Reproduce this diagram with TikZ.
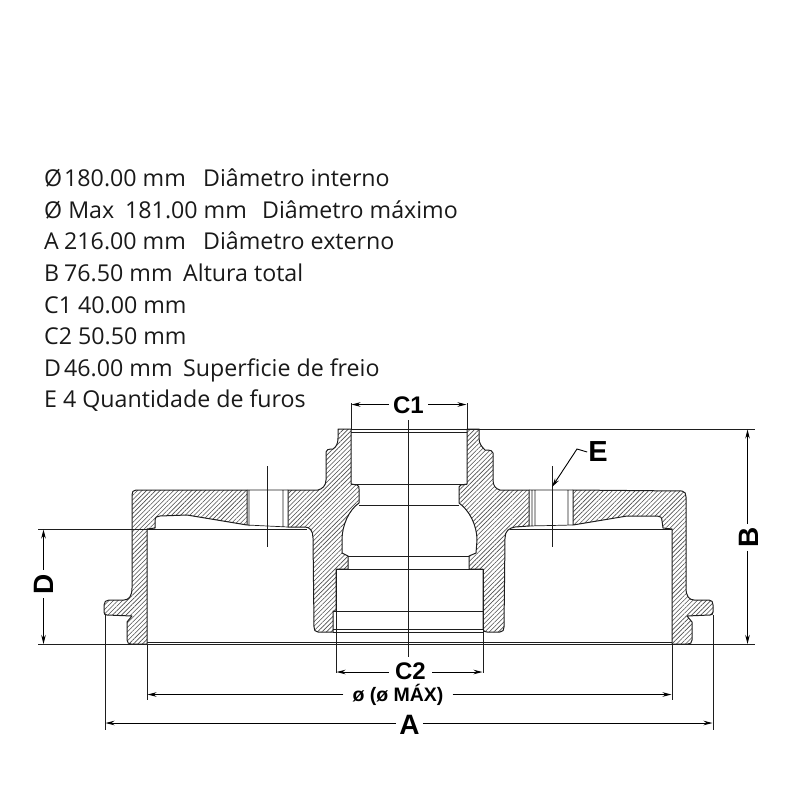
\documentclass[tikz,border=0pt]{standalone}
\usepackage{fontspec}
\setmainfont{Open Sans}
\newfontfamily\dimfont{Liberation Sans}
\usetikzlibrary{patterns.meta,arrows.meta}
\definecolor{inkgrey}{RGB}{30,30,30}
\tikzset{
  cutface/.style={draw=inkgrey,line width=1pt,line join=round,pattern={Lines[angle=45,distance=3.2pt,line width=0.6pt]},pattern color=black!70},
  thinline/.style={draw=inkgrey,line width=0.7pt},
  dimarrow/.style={draw=black,line width=0.9pt,-{Stealth[length=9pt,width=4.5pt]}},
  spec/.style={anchor=base west,inner sep=0pt,text=black!90,font=\fontsize{23.2}{26}\selectfont},
  dimlabel/.style={inner xsep=4pt,inner ysep=2pt,font=\dimfont\bfseries\fontsize{24}{26}\selectfont},
}
\begin{document}
\begin{tikzpicture}[x=1pt,y=1pt,yscale=-1,xscale=1]
\path[use as bounding box] (0,0) rectangle (800,800);

%Shape: outer wall left
\draw[cutface] (247,490) -- (136,490) .. controls (133,490) and (132,492) .. (132,495) -- (132,588) .. controls (132,596) and (129,600) .. (124,600) -- (109,600) .. controls (106,600) and (104,602) .. (104,605) -- (104,612) .. controls (104,614) and (105,615) .. (107,615) -- (132,616) -- (127,622) -- (127,640) .. controls (127,643) and (129,644) .. (131,644) -- (147,644) -- (147,529) -- (155,528) -- (155,521) .. controls (155,517) and (157,516) .. (160,516) -- (187,515) -- (247,525) -- cycle;
%Shape: hub left
\draw[cutface] (288,490) -- (318,490) .. controls (322,489) and (326,486) .. (326,480) -- (326,452) .. controls (326,450) and (328,449) .. (333,449) .. controls (336,447) and (338,444) .. (338,438) -- (338,429) -- (351,429) -- (351,484) -- (357,485) .. controls (359,486) and (359,487) .. (359,489) -- (359,503) .. controls (349,510) and (342,525) .. (342,540) -- (342,553) -- (348,556) -- (348,569) -- (336,569) -- (336,611) -- (333,611) -- (333,632) -- (318,632) .. controls (315,632) and (314,630) .. (314,627) -- (313,538) .. controls (313,531) and (310,527) .. (305,527) -- (288,527) -- cycle;
%Shape: hub right
\draw[cutface] (529,490) -- (500,490) .. controls (496,489) and (493,486) .. (493,480) -- (493,453) .. controls (493,451) and (491,450) .. (485,450) .. controls (482,447) and (479,444) .. (479,438) -- (479,429) -- (467,429) -- (467,484) -- (461,485) .. controls (459,486) and (459,487) .. (459,489) -- (459,503) .. controls (469,510) and (477,525) .. (477,540) -- (476,553) -- (469,556) -- (469,569) -- (483,569) -- (483,629) .. controls (483,631) and (485,632) .. (487,632) -- (500,632) .. controls (503,632) and (504,630) .. (504,627) -- (505,538) .. controls (505,531) and (509,528) .. (515,527) -- (529,526) -- cycle;
%Shape: outer wall right
\draw[cutface] (573,490) -- (682,491) .. controls (685,491) and (686,494) .. (686,497) -- (686,588) .. controls (686,596) and (689,600) .. (694,600) -- (709,600) .. controls (712,600) and (713,602) .. (713,605) -- (713,612) .. controls (713,614) and (712,615) .. (710,615) -- (687,616) -- (692,622) -- (692,640) .. controls (692,643) and (690,644) .. (688,644) -- (672,644) -- (672,529) -- (663,528) -- (662,521) .. controls (662,517) and (660,516) .. (657,516) -- (627,516) -- (573,525) -- cycle;

%Straight Lines: bolt holes
\draw[thinline] (247,490) -- (288,490) (247,525) -- (288,527) (249,490) -- (249,526) (283,490) -- (283,527);
\draw[thinline] (529,490) -- (573,490) (529,526) -- (573,525) (532,490) -- (532,526) (535,490) -- (535,526) (568,490) -- (568,525);
\draw[thinline] (267,466) -- (267,547) (552,466) -- (552,547);

%Straight Lines: bore edges
\draw[thinline] (351,429) -- (467,429) (351,432.5) -- (467,432.5) (351,484) -- (467,484) (359,505) -- (459,505) (348,556) -- (469,556) (336,569) -- (483,569) (333,611) -- (483,611) (333,629) -- (483,629) (333,632) -- (483,632);
\draw[thinline] (147,642.5) -- (672,642.5) (408.5,420) -- (408.5,657);

%Straight Lines: extension lines
\draw[thinline] (467,429) -- (755,429) (38,644.5) -- (755,644.5) (38,529) -- (307,529) (510,529) -- (672,529);
\draw[thinline] (351,403) -- (351,429) (467,403) -- (467,429);
\draw[thinline] (336,569) -- (336,673) (483,569) -- (483,673);
\draw[thinline] (147,644) -- (147,700) (672,644) -- (672,700);
\draw[thinline] (105,615) -- (105,730) (713,615) -- (713,730);

% Text Node
\node[spec] (diaA) at (44,186) {Ø};
\node[spec] (diaB) at (64,186) {180.00 mm};
\node[spec] (diaC) at (203,186) {Diâmetro interno};
\node[spec] (maxA) at (44,218) {Ø Max};
\node[spec] (maxB) at (125,218) {181.00 mm};
\node[spec] (maxC) at (262,218) {Diâmetro máximo};
\node[spec] (extA) at (44,249) {A};
\node[spec] (extB) at (64,249) {216.00 mm};
\node[spec] (extC) at (203,249) {Diâmetro externo};
\node[spec] (altA) at (44,281) {B};
\node[spec] (altB) at (64,281) {76.50 mm};
\node[spec] (altC) at (183,281) {Altura total};
\node[spec] (cumA) at (44,313) {C1 40.00 mm};
\node[spec] (cdoA) at (44,344) {C2 50.50 mm};
\node[spec] (freA) at (44,376) {D};
\node[spec] (freB) at (64,376) {46.00 mm};
\node[spec] (freC) at (183,376) {Superficie de freio};
\node[spec] (furA) at (44,407) {E 4 Quantidade de furos};

% Dimension labels
\node[dimlabel] (lblcone) at (408.5,405.5) {C1};
\node[dimlabel,inner xsep=6pt] (lblctwo) at (410.5,671.5) {C2};
\node[dimlabel,inner xsep=9pt,font=\dimfont\bfseries\fontsize{19.5}{20}\selectfont] (lbldia) at (398,695) {ø (ø MÁX)};
\node[dimlabel,inner xsep=3pt,font=\dimfont\bfseries\fontsize{28}{30}\selectfont] (lbla) at (409.5,725) {A};
\node[dimlabel,rotate=90,inner xsep=3pt,font=\dimfont\bfseries\fontsize{28}{30}\selectfont] (lblb) at (749,537.5) {B};
\node[dimlabel,rotate=90,inner xsep=4pt,font=\dimfont\bfseries\fontsize{28}{30}\selectfont] (lbld) at (44,584) {D};
\node[dimlabel,inner xsep=1pt,font=\dimfont\bfseries\fontsize{29}{30}\selectfont] (lble) at (598,452) {E};

\coordinate (coneL) at (351.5,404.5);
\coordinate (coneR) at (466.5,404.5);
\coordinate (ctwoL) at (336.5,672);
\coordinate (ctwoR) at (482.5,672);
\coordinate (diaL) at (147.5,694.5);
\coordinate (diaR) at (671.5,694.5);
\coordinate (aL) at (105.5,723);
\coordinate (aR) at (712.5,723);
\coordinate (bT) at (747.5,429.5);
\coordinate (bB) at (747.5,644);
\coordinate (dT) at (43.5,529.5);
\coordinate (dB) at (43.5,644);
\coordinate (eT) at (552,487);
\coordinate (eK) at (577,449);

%Straight Lines: dimension arrows
\draw[dimarrow] (lblcone.west |- coneL) -- (coneL);
\draw[dimarrow] (lblcone.east |- coneR) -- (coneR);
\draw[dimarrow] (lblctwo.west |- ctwoL) -- (ctwoL);
\draw[dimarrow] (lblctwo.east |- ctwoR) -- (ctwoR);
\draw[dimarrow] (lbldia.west |- diaL) -- (diaL);
\draw[dimarrow] (lbldia.east |- diaR) -- (diaR);
\draw[dimarrow] (lbla.west |- aL) -- (aL);
\draw[dimarrow] (lbla.east |- aR) -- (aR);
\draw[dimarrow] (lblb.east -| bT) -- (bT);
\draw[dimarrow] (lblb.west -| bB) -- (bB);
\draw[dimarrow] (lbld.east -| dT) -- (dT);
\draw[dimarrow] (lbld.west -| dB) -- (dB);
\draw[dimarrow] (lble.west) -- (eK) -- (eT);
\end{tikzpicture}
\end{document}
